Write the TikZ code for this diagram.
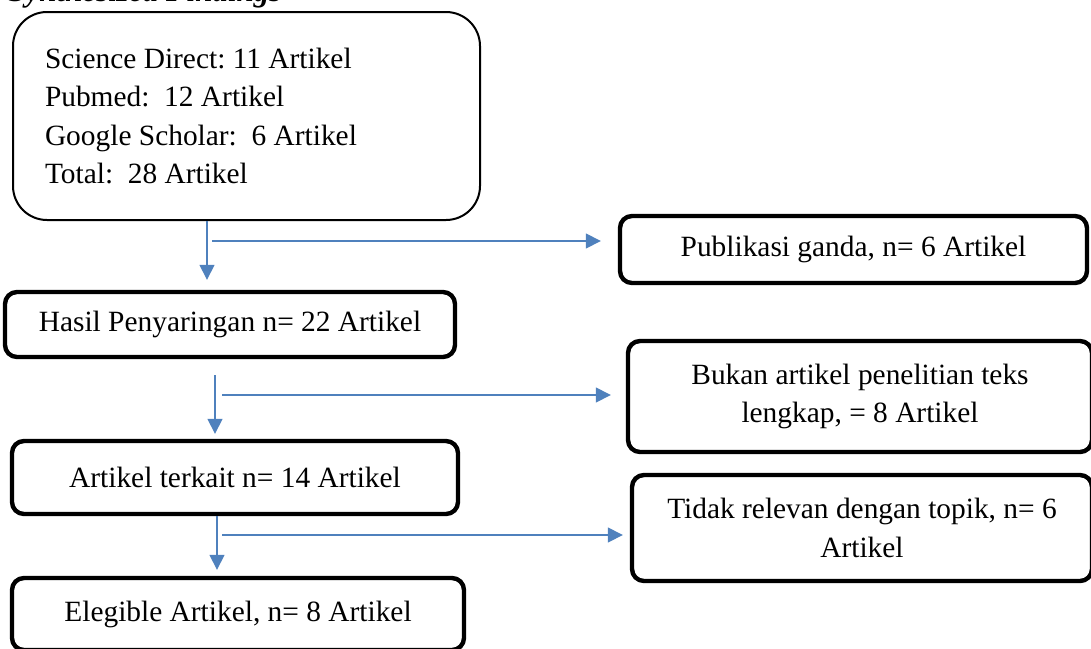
\documentclass[tikz,border=0pt]{standalone}
\usepackage{fontspec}
\setmainfont{Liberation Serif}
\usetikzlibrary{arrows.meta, positioning}
\definecolor{flowblue}{HTML}{4F81BD}
\tikzstyle{source} = [
    rectangle, rounded corners=17pt,
    minimum width=233.5pt, minimum height=104pt,
    inner xsep=16pt, text width=201.5pt, align=flush left,
    draw=black, line width=1pt
]
\tikzstyle{stage} = [
    rectangle, rounded corners=6pt,
    text centered, align=center,
    draw=black, line width=2.2pt
]
\tikzstyle{arrow} = [draw=flowblue, line width=0.75pt, -{Triangle[length=7.5pt,width=7.5pt]}]
\frenchspacing

\begin{document}
\begin{tikzpicture}[x=0.5pt, y=-0.5pt, font=\fontsize{14.7}{19.3}\selectfont]
        \useasboundingbox (0,0) rectangle (1091,648);
        \clip (0,0) rectangle (1091,648);
        % Title (cut at the top)
        \node (title) [anchor=base west, inner sep=0pt, font=\fontsize{15.5}{19}\selectfont] at (8,2) {\textbf{\textit{Synthesized Findings}}};

        % Draw blocks
        \node (start) [source] at (246.5,116) {Science Direct: 11 Artikel\\Pubmed:\ \ 12 Artikel\\Google Scholar:\ \ 6 Artikel\\Total:\ \ 28 Artikel};
        \node (hasil) [stage, minimum width=225pt, minimum height=32.5pt] at (230,324.5) {Hasil Penyaringan n= 22 Artikel};
        \node (terkait) [stage, minimum width=223pt, minimum height=36.5pt] at (235,477.5) {Artikel terkait n= 14 Artikel};
        \node (elegible) [stage, minimum width=226pt, minimum height=36pt] at (238,614) {Elegible Artikel, n= 8 Artikel};
        \node (ganda) [stage, minimum width=233.5pt, minimum height=33.5pt] at (853.5,249.5) {Publikasi ganda, n= 6 Artikel};
        \node (bukan) [stage, minimum width=232pt, minimum height=55.5pt] at (860,396.5) {Bukan artikel penelitian teks\\lengkap, = 8 Artikel};
        \node (tidak) [stage, minimum width=230pt, minimum height=53pt] at (862,528) {Tidak relevan dengan topik, n= 6\\Artikel};

        % Free ends of the arrows
        \coordinate (v1) at (207,0);
        \coordinate (v2) at (215,375);
        \coordinate (v3) at (217,0);
        \coordinate (h1) at (212,241);
        \coordinate (h2) at (222,395);
        \coordinate (h3) at (222,535);

        % Draw arrows
        \draw [arrow, shorten >=5pt] (start.south -| v1) -- (hasil.north -| v1);
        \draw [arrow, shorten >=2.5pt] (v2) -- (terkait.north -| v2);
        \draw [arrow, shorten >=3pt] (terkait.south -| v3) -- (elegible.north -| v3);
        \draw [arrow, shorten >=8.5pt] (h1) -- (h1 -| ganda.west);
        \draw [arrow, shorten >=7.5pt] (h2) -- (h2 -| bukan.west);
        \draw [arrow, shorten >=3.5pt] (h3) -- (h3 -| tidak.west);
\end{tikzpicture}
\end{document}
